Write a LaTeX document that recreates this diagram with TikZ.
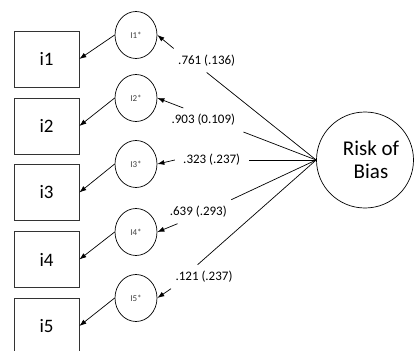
\documentclass[tikz,border=0pt]{standalone}
\usepackage{fontspec}
\setmainfont{Carlito}
\usetikzlibrary{arrows.meta,shapes.geometric}
\tikzset{
	sem diagram/.style={x=1pt,y=-1pt,line width=.7pt},
	item/.style={draw=black!80,minimum width=65pt,minimum height=56pt,
		font=\fontsize{19}{21}\selectfont},
	err/.style={draw,ellipse,minimum width=42pt,minimum height=47pt,
		inner sep=0pt,text=black!75,font=\fontsize{9}{10}\selectfont},
	factor/.style={draw,ellipse,minimum width=97pt,minimum height=96pt,
		inner sep=0pt,align=center,font=\fontsize{21}{23.5}\selectfont},
	load/.style={inner xsep=8pt,inner ysep=6pt,font=\fontsize{13}{15}\selectfont},
	ar/.style={-{Latex[length=7pt,width=5pt]}}
}

\begin{document}
\begin{tikzpicture}[sem diagram]
	\useasboundingbox (0,0) rectangle (414,350);
	\clip (0,0) rectangle (414,350);
	% observed items and their error terms
	\foreach \k/\by/\ey in {1/59/35, 2/126/98, 3/192.5/164, 4/259.5/232, 5/326/298} {
		\node[item] (i\k) at (46.5,\by) {i\k};
		\node[err] (e\k) at (136,\ey) {I\k*};
		\draw[ar] (e\k.west) -- (i\k.east);
	}
	\node[factor] (rb) at (365,160) {\hspace*{12pt}Risk of\\\hspace*{12pt}Bias};
	% loadings
	\node[load] (l1) at (206.7,60.5) {.761 (.136)};
	\node[load] (l2) at (203.3,120) {.903 (0.109)};
	\node[load] (l3) at (211.7,160) {.323 (.237)};
	\node[load] (l4) at (198.3,211.7) {.639 (.293)};
	\node[load] (l5) at (204,276.7) {.121 (.237)};
	\draw (rb.west) -- (l1.south);
	\draw (rb.west) -- (l2.south east);
	\draw (rb.west) -- (l3.east);
	\draw (rb.west) -- (l4.20);
	\draw (rb.west) -- (l5.118);
	\draw[ar] (l1.160) -- (e1.east);
	\draw[ar] (l2.149) -- (e2.east);
	\draw[ar] (l3.west) -- (e3.east);
	\draw[ar] (l4.210) -- (e4.east);
	\draw[ar] (l5.200) -- (e5.east);
\end{tikzpicture}
\end{document}
